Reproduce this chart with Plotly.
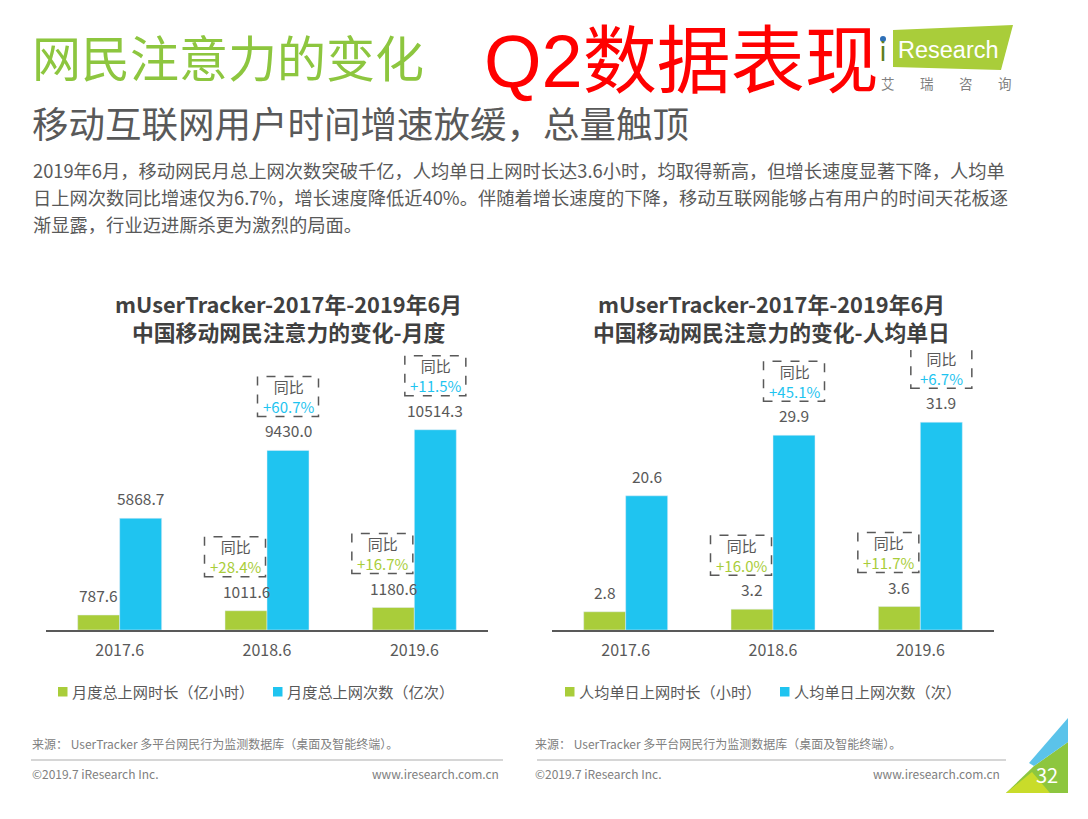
import plotly.graph_objects as go

# ---------------- data ----------------
categories = ["2017.6", "2018.6", "2019.6"]

monthly_hours = [787.6, 1011.6, 1180.6]        # 月度总上网时长（亿小时）
monthly_sessions = [5868.7, 9430.0, 10514.3]   # 月度总上网次数（亿次）
monthly_hours_yoy = [None, "+28.4%", "+16.7%"]
monthly_sessions_yoy = [None, "+60.7%", "+11.5%"]

daily_hours = [2.8, 3.2, 3.6]                  # 人均单日上网时长（小时）
daily_sessions = [20.6, 29.9, 31.9]            # 人均单日上网次数（次）
daily_hours_yoy = [None, "+16.0%", "+11.7%"]
daily_sessions_yoy = [None, "+45.1%", "+6.7%"]

names_left = ["月度总上网时长（亿小时）", "月度总上网次数（亿次）"]
names_right = ["人均单日上网时长（小时）", "人均单日上网次数（次）"]

# ---------------- style ----------------
W, H = 1088, 819
GREEN = "#a9cd3a"
BLUE = "#1fc4f0"
GREY = "#595959"
DARK = "#404040"
LIGHT = "#808080"
FONT = "Noto Sans CJK SC, Noto Sans, sans-serif"


def px(x):
    return x / W


def py(y):
    return 1 - y / H


fig = go.Figure()

fig.add_trace(go.Bar(x=categories, y=monthly_hours, name=names_left[0], marker_color=GREEN,
                     xaxis="x", yaxis="y", showlegend=False, hoverinfo="skip"))
fig.add_trace(go.Bar(x=categories, y=monthly_sessions, name=names_left[1], marker_color=BLUE,
                     xaxis="x", yaxis="y", showlegend=False, hoverinfo="skip"))
fig.add_trace(go.Bar(x=categories, y=daily_hours, name=names_right[0], marker_color=GREEN,
                     xaxis="x2", yaxis="y2", showlegend=False, hoverinfo="skip"))
fig.add_trace(go.Bar(x=categories, y=daily_sessions, name=names_right[1], marker_color=BLUE,
                     xaxis="x2", yaxis="y2", showlegend=False, hoverinfo="skip"))

annotations = []
shapes = []

# value labels + yoy boxes
BAR_OFF = 21
panels = [
    ("x", "y", monthly_hours, monthly_sessions, monthly_hours_yoy, monthly_sessions_yoy),
    ("x2", "y2", daily_hours, daily_sessions, daily_hours_yoy, daily_sessions_yoy),
]
for xr, yr, g_vals, b_vals, g_yoy, b_yoy in panels:
    for i in range(len(categories)):
        for vals, yoy, off, box_off, col in ((g_vals, g_yoy, -BAR_OFF, -32, GREEN),
                                             (b_vals, b_yoy, BAR_OFF, BAR_OFF, BLUE)):
            v = vals[i]
            annotations.append(dict(x=i, y=v, xref=xr, yref=yr, xshift=off, yshift=20,
                                    text="{:.1f}".format(v), showarrow=False, yanchor="middle",
                                    font=dict(size=15.5, color=GREY, family=FONT)))
            if yoy[i]:
                shapes.append(dict(type="rect", xref=xr, yref=yr, xsizemode="pixel", ysizemode="pixel",
                                   xanchor=i, yanchor=v, x0=box_off - 30.5, x1=box_off + 30.5,
                                   y0=34, y1=74, line=dict(color=GREY, width=1.5, dash="dash"),
                                   fillcolor="rgba(0,0,0,0)"))
                annotations.append(dict(x=i, y=v, xref=xr, yref=yr, xshift=box_off, yshift=54,
                                        text="同比<br><span style='color:%s'>%s</span>" % (col, yoy[i]),
                                        showarrow=False, yanchor="middle",
                                        font=dict(size=15, color=GREY, family=FONT)))


def txt(x, y, s, size, color, anchor="left", bold=False, family=FONT):
    annotations.append(dict(x=px(x), y=py(y), xref="paper", yref="paper", text=("<b>%s</b>" % s) if bold else s,
                            showarrow=False, xanchor=anchor, yanchor="middle",
                            font=dict(size=size, color=color, family=family)))


# headers
txt(30, 56, "网民注意力的变化", 49, "#8dc63f")
txt(482, 62, "Q2数据表现", 74, "#ff0000", family="Liberation Sans, Noto Sans CJK SC")
txt(30, 122, "移动互联网用户时间增速放缓，总量触顶", 36.5, GREY)

body_lines = [
    "2019年6月，移动网民月总上网次数突破千亿，人均单日上网时长达3.6小时，均取得新高，但增长速度显著下降，人均单",
    "日上网次数同比增速仅为6.7%，增长速度降低近40%。伴随着增长速度的下降，移动互联网能够占有用户的时间天花板逐",
    "渐显露，行业迈进厮杀更为激烈的局面。",
]
for k, line in enumerate(body_lines):
    txt(31, 170 + 27 * k, line, 18.3, GREY)

# chart titles
txt(288, 303, "mUserTracker-2017年-2019年6月", 21.8, DARK, "center", bold=True)
txt(288, 331, "中国移动网民注意力的变化-月度", 21.8, DARK, "center", bold=True)
txt(771, 303, "mUserTracker-2017年-2019年6月", 21.8, DARK, "center", bold=True)
txt(771, 331, "中国移动网民注意力的变化-人均单日", 21.8, DARK, "center", bold=True)

# legends (square + label)
legend_items = [
    (58, GREEN, names_left[0]), (273, BLUE, names_left[1]),
    (565, GREEN, names_right[0]), (780, BLUE, names_right[1]),
]
for lx, col, name in legend_items:
    shapes.append(dict(type="rect", xref="paper", yref="paper", x0=px(lx), x1=px(lx + 9.5),
                       y0=py(696.5), y1=py(687), fillcolor=col, line=dict(width=0)))
    txt(lx + 12, 691, name, 15.2, GREY)

# footer
src = "来源： UserTracker 多平台网民行为监测数据库（桌面及智能终端）。"
txt(30, 743, src, 12, LIGHT)
txt(533, 743, src, 12, LIGHT)
txt(30, 773, "©2019.7 iResearch Inc.", 12, LIGHT)
txt(533, 773, "©2019.7 iResearch Inc.", 12, LIGHT)
txt(501, 773, "www.iresearch.com.cn", 12, LIGHT, "right")
txt(1002, 773, "www.iresearch.com.cn", 12, LIGHT, "right")
for x0, x1 in ((31, 503), (537, 1006)):
    shapes.append(dict(type="line", xref="paper", yref="paper", x0=px(x0), x1=px(x1), y0=py(760), y1=py(760),
                       line=dict(color="#c8c8c8", width=1.5)))


def path(pts):
    return "M " + " L ".join("%.5f,%.5f" % (px(a), py(b)) for a, b in pts) + " Z"


# logo
shapes.append(dict(type="path", xref="paper", yref="paper", path=path([(893, 30), (1013, 25), (1001, 70), (893, 67)]),
                   fillcolor="#a9cd3a", line=dict(width=0)))
txt(878, 52, "i", 27, "#5d7d1a", family="Liberation Sans")
shapes.append(dict(type="circle", xref="paper", yref="paper", x0=px(880), x1=px(886), y0=py(42), y1=py(36),
                   fillcolor="#2e6fb7", line=dict(width=0)))
txt(896, 50, "Research", 23.5, "white", family="Liberation Sans")
for k, ch in enumerate(["艾", "瑞", "咨", "询"]):
    txt(888 + 39 * k, 83, ch, 13.5, LIGHT, "center")

# page corner decoration
shapes.append(dict(type="path", xref="paper", yref="paper", path=path([(1068, 742), (1068, 793), (1006, 793), (1034, 766)]),
                   fillcolor="#8dc63f", line=dict(width=0)))
shapes.append(dict(type="path", xref="paper", yref="paper", path=path([(1006, 793), (1050, 793), (1032, 772)]),
                   fillcolor="#c9dc2a", line=dict(width=0)))
shapes.append(dict(type="path", xref="paper", yref="paper", path=path([(1068, 718), (1068, 742), (1034, 766), (1029, 763)]),
                   fillcolor="#5bc3ea", line=dict(width=0)))
txt(1047, 774, "32", 20, "white", "center")

axis_common = dict(type="category", showline=True, linecolor=GREY, linewidth=2, ticks="", showgrid=False,
                   zeroline=False, tickfont=dict(size=16, color=GREY, family=FONT), range=[-0.5, 2.5],
                   fixedrange=True, ticklabelstandoff=5)
y_dom = [189 / H, 469 / H]

fig.update_layout(
    width=W, height=H,
    margin=dict(l=0, r=0, t=0, b=0),
    paper_bgcolor="white", plot_bgcolor="white",
    barmode="group", bargap=0.43, bargroupgap=0,
    font=dict(family=FONT, color=GREY),
    xaxis=dict(domain=[46 / W, 488 / W], anchor="y", **axis_common),
    yaxis=dict(domain=y_dom, anchor="x", visible=False, range=[0, 14700], fixedrange=True),
    xaxis2=dict(domain=[552 / W, 994 / W], anchor="y2", **axis_common),
    yaxis2=dict(domain=y_dom, anchor="x2", visible=False, range=[0, 42.98], fixedrange=True),
    annotations=annotations,
    shapes=shapes,
    showlegend=False,
)

fig.write_html("out.html", config={"displayModeBar": False},
               post_script="document.body.style.margin='0';document.body.style.overflow='hidden';")
